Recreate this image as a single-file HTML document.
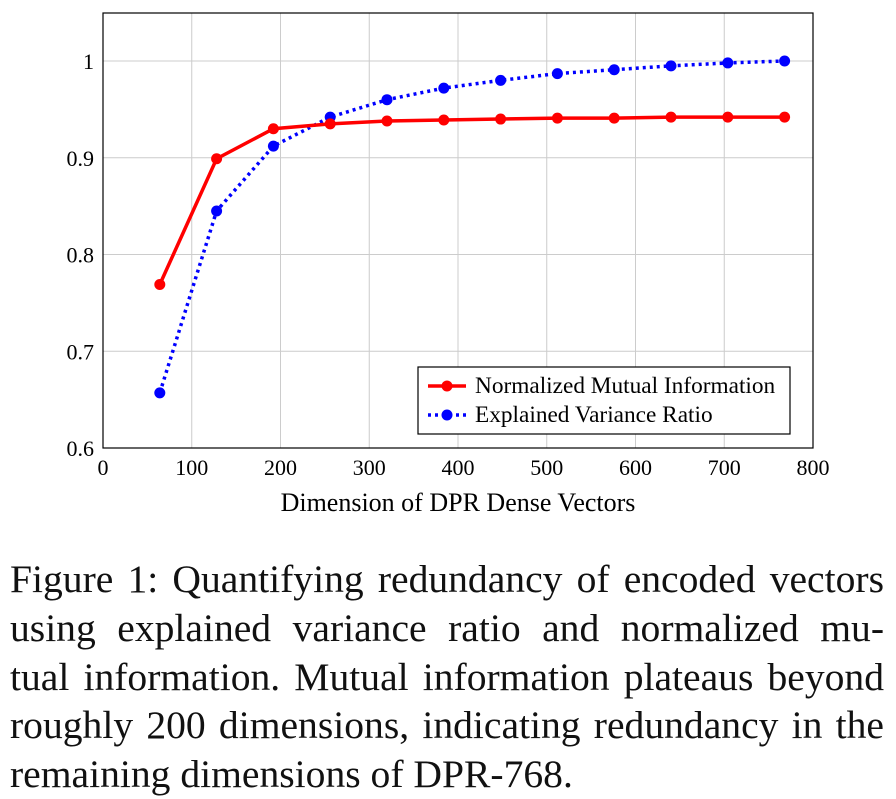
<!DOCTYPE html>
<html><head><meta charset="utf-8"><style>
body{margin:0;background:#fff;width:896px;height:795px;overflow:hidden;font-family:"Liberation Serif",serif}
svg text{font-family:"Liberation Serif",serif}
#cap{position:absolute;left:10px;top:555px;width:874px;font-size:39.6px;line-height:48.8px;color:#111}
#cap div{text-align:justify;text-align-last:justify;white-space:nowrap}
#cap div.last{text-align-last:left}
</style></head><body>
<svg width="896" height="540" style="position:absolute;left:0;top:0">
<g id="grid"></g><g id="axes"></g><g id="series"></g><g id="legend"></g>
</svg>
<div id="cap">
<div>Figure 1: Quantifying redundancy of encoded vectors</div>
<div>using explained variance ratio and normalized mu-</div>
<div>tual information. Mutual information plateaus beyond</div>
<div>roughly 200 dimensions, indicating redundancy in the</div>
<div class="last">remaining dimensions of DPR-768.</div>
</div>
<script>
const dims=[64,128,192,256,320,384,448,512,576,640,704,768];
const nmi=[0.769,0.899,0.930,0.935,0.938,0.939,0.940,0.941,0.941,0.942,0.942,0.942];
const evr=[0.657,0.845,0.912,0.942,0.960,0.972,0.980,0.987,0.991,0.995,0.998,1.000];
const xTicks=[0,100,200,300,400,500,600,700,800];
const yTicks=[0.6,0.7,0.8,0.9,1];
const yTickLabels=["0.6","0.7","0.8","0.9","1"];
const NS="http://www.w3.org/2000/svg";
const L=103,R=813,T=13,B=448;
const xs=v=>L+v/800*(R-L);
const ys=v=>61+(1-v)*967.5;
function mk(p,t,a){const e=document.createElementNS(NS,t);for(const k in a)e.setAttribute(k,a[k]);p.appendChild(e);return e;}
const g=document.getElementById('grid'),ax=document.getElementById('axes'),se=document.getElementById('series'),lg=document.getElementById('legend');
xTicks.forEach(v=>{
 const l=mk(g,'line',{x1:xs(v),x2:xs(v),y1:T,y2:B,stroke:'#ccc','stroke-width':1});
 
 const t=mk(ax,'text',{x:xs(v),y:B+27,'text-anchor':'middle','font-size':22});t.textContent=v;
 
});
yTicks.forEach((v,i)=>{
 const l=mk(g,'line',{x1:L,x2:R,y1:ys(v),y2:ys(v),stroke:'#ccc','stroke-width':1});
 
 const t=mk(ax,'text',{x:L-9,y:ys(v)+8,'text-anchor':'end','font-size':22});t.textContent=yTickLabels[i];
 
});
const fr=mk(ax,'rect',{x:L,y:T,width:R-L,height:B-T,fill:'none',stroke:'#000','stroke-width':1.2});

const xt=mk(ax,'text',{x:458,y:511,'text-anchor':'middle','font-size':26});xt.textContent='Dimension of DPR Dense Vectors';

function series(vals,color,dash,name){
 const pl=mk(se,'polyline',{points:dims.map((d,i)=>xs(d)+','+ys(vals[i])).join(' '),fill:'none',stroke:color,'stroke-width':3.5,'stroke-dasharray':dash});
 
 dims.forEach((d,i)=>{const c=mk(se,'circle',{cx:xs(d),cy:ys(vals[i]),r:5.5,fill:color});
 });
}
series(evr,'#0000ff','3 4','evr');
series(nmi,'#ff0000','none','nmi');
const lb=mk(lg,'rect',{x:418,y:367,width:372,height:67,fill:'#fff',stroke:'#000','stroke-width':1.2});

[['Normalized Mutual Information','#ff0000','none',386],['Explained Variance Ratio','#0000ff','3 4',415]].forEach(([n,c,d,y])=>{
 const l=mk(lg,'line',{x1:428,x2:466,y1:y,y2:y,stroke:c,'stroke-width':3.5,'stroke-dasharray':d});
 
 const ci=mk(lg,'circle',{cx:447,cy:y,r:5.5,fill:c});
 
 const t=mk(lg,'text',{x:475,y:y+7,'font-size':23.3});t.textContent=n;
 
});
</script>
</body></html>
